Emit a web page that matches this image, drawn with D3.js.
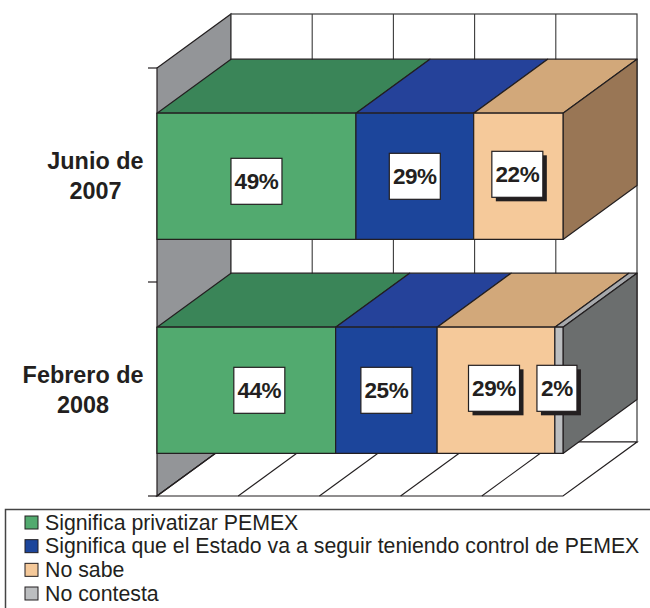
<!DOCTYPE html>
<html><head><meta charset="utf-8">
<style>html,body{margin:0;padding:0;background:#fff}svg{display:block}text{font-family:"Liberation Sans",Arial,sans-serif;fill:#231f20}</style>
<script src="https://cdn.jsdelivr.net/npm/d3@7/dist/d3.min.js"></script>
</head><body><svg id="c" width="650" height="608"></svg>
<script>
const categories = ["Junio de 2007", "Febrero de 2008"];
const seriesNames = ["Significa privatizar PEMEX", "Significa que el Estado va a seguir teniendo control de PEMEX", "No sabe", "No contesta"];
const privatizar = [49, 44];
const estado = [29, 25];
const noSabe = [22, 29];
const noContesta = [0, 2];
const frontColors = ["#52aa6f", "#1c459b", "#f5c99a", "#bcbec0"];
const topColors = ["#3a8558", "#25429a", "#d2a87a", "#a7a9ac"];
const sideColors = ["#2f6b47", "#17357a", "#997655", "#6b6e6e"];

const INK = "#231f20", GRID = "#3a3a3a";
const svg = d3.select("#c");
const depth = {dx: 74, dy: -54};
const x = d3.scaleLinear().domain([0, 100]).range([157, 563]);
const y = d3.scaleBand().domain(categories).range([68, 496]).paddingInner(0.41).paddingOuter(0.205).align(0.515);
const outer = d3.scaleBand().domain(categories).range([68, 496]);
const plotTop = 68, plotBottom = 496;
const pts = a => a.map(p => p.join(",")).join(" ");

const rows = categories.map((c, i) => ({cat: c, s0: privatizar[i], s1: estado[i], s2: noSabe[i], s3: noContesta[i]}));
const stacked = d3.stack().keys(["s0", "s1", "s2", "s3"])(rows);

// walls
const x0 = x(0), x1 = x(100);
svg.append("polygon").attr("fill", "#939598").attr("stroke", INK).attr("stroke-width", 1.2)
  .attr("points", pts([[x0, plotTop], [x0 + depth.dx, plotTop + depth.dy], [x0 + depth.dx, plotBottom + depth.dy], [x0, plotBottom]]));
svg.append("rect").attr("fill", "#fff").attr("stroke", GRID).attr("stroke-width", 1.2)
  .attr("x", x0 + depth.dx).attr("y", plotTop + depth.dy).attr("width", x1 - x0).attr("height", plotBottom - plotTop);
svg.append("polygon").attr("fill", "#fff").attr("stroke", INK).attr("stroke-width", 1.2)
  .attr("points", pts([[x0, plotBottom], [x1, plotBottom], [x1 + depth.dx, plotBottom + depth.dy], [x0 + depth.dx, plotBottom + depth.dy]]));

// grid
const gridTicks = x.ticks(5);
gridTicks.forEach(t => {
  if (t > 0 && t < 100) svg.append("line").attr("stroke", GRID).attr("stroke-width", 1.1)
    .attr("x1", x(t) + depth.dx).attr("x2", x(t) + depth.dx)
    .attr("y1", plotTop + depth.dy).attr("y2", plotBottom + depth.dy);
  if (t < 100) svg.append("line").attr("stroke", INK).attr("stroke-width", 1.1)
    .attr("x1", x(t)).attr("y1", plotBottom)
    .attr("x2", x(t) + depth.dx).attr("y2", plotBottom + depth.dy);
});

// category ticks
[...categories.map(c => outer(c)), plotBottom].forEach(v => {
  svg.append("line").attr("stroke", INK).attr("stroke-width", 1.2).attr("x1", 148).attr("x2", x0).attr("y1", v).attr("y2", v);
});

// bars
rows.forEach((r, ci) => {
  const top = y(r.cat), h = y.bandwidth();
  const g = svg.append("g").attr("stroke", INK).attr("stroke-width", 1.2).attr("stroke-linejoin", "round");
  let last = -1;
  stacked.forEach((s, si) => { if (s[ci][1] > s[ci][0]) last = si; });
  stacked.forEach((s, si) => {
    const [a, b] = s[ci];
    if (b <= a) return;
    g.append("polygon").attr("fill", topColors[si])
      .attr("points", pts([[x(a), top], [x(b), top], [x(b) + depth.dx, top + depth.dy], [x(a) + depth.dx, top + depth.dy]]));
    if (si === last) g.append("polygon").attr("fill", sideColors[si])
      .attr("points", pts([[x(b), top], [x(b) + depth.dx, top + depth.dy], [x(b) + depth.dx, top + h + depth.dy], [x(b), top + h]]));
    g.append("rect").attr("fill", frontColors[si]).attr("x", x(a)).attr("y", top).attr("width", x(b) - x(a)).attr("height", h);
  });
});

// value labels: nudges are [category][series] offsets from the segment centre
const nudges = [[[0, 5], [0, 0], [-1, -2], [0, 0]], [[13, 0], [0, 0], [-2, -2], [-2, -2]]];
const shadowed = [[false, false, true, false], [false, false, true, true]];
rows.forEach((r, ci) => {
  const top = y(r.cat), h = y.bandwidth();
  stacked.forEach((s, si) => {
    const [a, b] = s[ci];
    if (b <= a) return;
    const label = (b - a) + "%";
    const w = label.length > 2 ? 51 : 40, bh = 46;
    const cx = (x(a) + x(b)) / 2 + nudges[ci][si][0], cy = top + h / 2 + nudges[ci][si][1];
    if (shadowed[ci][si]) svg.append("rect").attr("fill", INK)
      .attr("x", cx - w / 2 + 4).attr("y", cy - bh / 2 + 4).attr("width", w).attr("height", bh);
    svg.append("rect").attr("fill", "#fff").attr("stroke", INK).attr("stroke-width", 1.2)
      .attr("x", cx - w / 2).attr("y", cy - bh / 2).attr("width", w).attr("height", bh);
    svg.append("text").attr("x", cx).attr("y", cy + 7.5).attr("text-anchor", "middle")
      .attr("font-size", 22.5).attr("font-weight", "bold").attr("letter-spacing", -0.4).text(label);
  });
});

// category labels: two centred lines, widest line flush to the axis gap
categories.forEach(c => {
  const words = c.split(" ");
  const lines = [words.slice(0, -1).join(" "), words[words.length - 1]];
  const cy = y(c) + y.bandwidth() / 2;
  const t = svg.append("text").attr("font-size", 23.4).attr("font-weight", "bold").attr("text-anchor", "middle");
  const spans = lines.map((l, i) => t.append("tspan").attr("y", cy - 7 + i * 30).text(l));
  const maxW = Math.max(...spans.map(sp => sp.node().getComputedTextLength()));
  spans.forEach(sp => sp.attr("x", 143.5 - maxW / 2));
});

// legend
svg.append("path").attr("fill", "none").attr("stroke", "#444").attr("stroke-width", 1.5).attr("d", "M650,509.5H5.5V608");
const legendY = d3.scalePoint().domain(seriesNames).range([522, 593]);
seriesNames.forEach((n, i) => {
  svg.append("rect").attr("x", 25).attr("y", legendY(n) - 6).attr("width", 13).attr("height", 13)
    .attr("fill", frontColors[i]).attr("stroke", INK).attr("stroke-width", 1);
  svg.append("text").attr("x", 45).attr("y", legendY(n) + 7.5).attr("font-size", 21.3).text(n);
});
</script></body></html>
